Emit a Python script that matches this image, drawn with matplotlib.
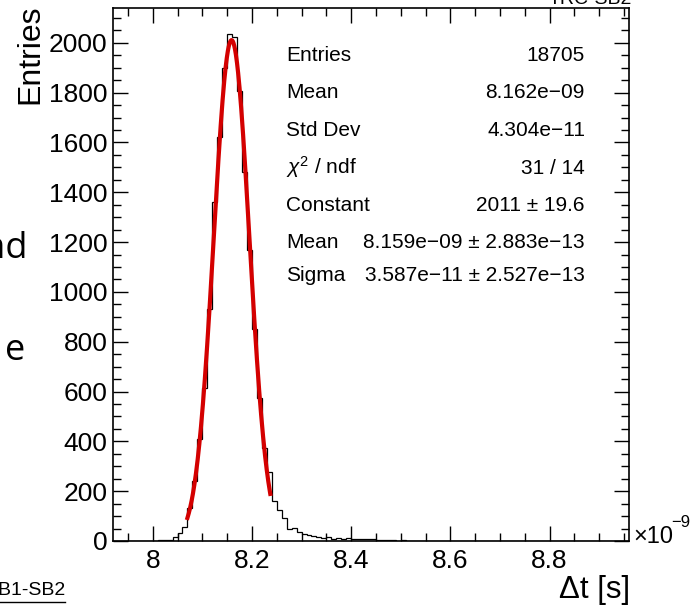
import matplotlib
matplotlib.use('Agg')
from matplotlib import pyplot as plt
from matplotlib.ticker import MultipleLocator
import numpy as np

plt.rcParams['font.family'] = ['Liberation Sans', 'DejaVu Sans']
plt.rcParams['mathtext.fontset'] = 'custom'
plt.rcParams['mathtext.rm'] = 'Liberation Sans'
plt.rcParams['mathtext.it'] = 'Liberation Sans:italic'

# histogramma: 104 bin da 0.01 ns tra 7.92 e 8.96 (x 1e-9 s)
x_lo, x_hi = 7.92, 8.96
counts = [0, 0, 0, 0, 2, 1, 0, 0, 1, 3,
          4, 6, 18, 33, 55, 134, 242, 408, 616, 930,
          1363, 1624, 1898, 2036, 2025, 1808, 1483, 1169, 850, 573,
          372, 278, 160, 125, 91, 50, 54, 37, 28, 24,
          20, 16, 13, 15, 10, 14, 9, 11, 10, 10,
          8, 7, 7, 5, 4, 3, 4, 2, 3, 1,
          2, 1, 0, 1, 0, 0, 1, 0, 0, 0,
          0, 0, 0, 0, 0, 0, 0, 0, 0, 0,
          0, 0, 0, 0, 0, 0, 0, 0, 0, 0,
          0, 0, 0, 0, 0, 0, 0, 0, 0, 0,
          0, 0, 0, 0]

# parametri del fit gaussiano
fit_const = 2011
fit_mean = 8.159
fit_sigma = 0.03587
fit_min, fit_max = 8.07, 8.237

x_ticks = [8.0, 8.2, 8.4, 8.6, 8.8]
x_ticklabels = ['8', '8.2', '8.4', '8.6', '8.8']

stats_labels = ['Entries', 'Mean', 'Std Dev', r'$\chi^{2}$ / ndf',
                'Constant', 'Mean', 'Sigma']
stats_values = ['18705', '8.162e\u221209', '4.304e\u221211', '31 / 14',
                '2011 \u00b1 19.6', '8.159e\u221209 \u00b1 2.883e\u221213',
                '3.587e\u221211 \u00b1 2.527e\u221213']

W, H = 695, 612


def fx(p):
    return p / W


def fy(p):
    return 1 - p / H


fig = plt.figure(figsize=(W / 100, H / 100), dpi=100)
ax = fig.add_axes([fx(113), fy(541), (629 - 113) / W, (541 - 8) / H])

edges = np.linspace(x_lo, x_hi, len(counts) + 1)
ax.stairs(counts, edges, color='black', lw=0.9)

xf = np.linspace(fit_min, fit_max, 300)
yf = fit_const * np.exp(-0.5 * ((xf - fit_mean) / fit_sigma) ** 2)
ax.plot(xf, yf, color='#d40000', lw=3)

ax.set_xlim(x_lo, x_hi)
ax.set_ylim(0, 2140)
ax.set_xticks(x_ticks)
ax.set_xticklabels(x_ticklabels)
ax.xaxis.set_minor_locator(MultipleLocator(0.05))
ax.yaxis.set_major_locator(MultipleLocator(200))
ax.yaxis.set_minor_locator(MultipleLocator(50))
ax.tick_params(which='both', direction='in', top=True, right=True,
               width=1, labelsize=19)
ax.tick_params(which='major', length=11)
ax.tick_params(which='minor', length=5.8)
ax.tick_params(axis='y', pad=4)
ax.tick_params(axis='x', pad=6)
for s in ax.spines.values():
    s.set_linewidth(1.2)

# titoli degli assi
fig.text(fx(30), fy(4), 'Entries', rotation=90, ha='center', va='top',
         fontsize=23)
fig.text(fx(630), fy(598), '\u0394t [s]', ha='right', va='baseline',
         fontsize=22.5)
fig.text(fx(633), fy(543), '\u00d710', ha='left', va='baseline', fontsize=17)
fig.text(fx(671), fy(527), '\u22129', ha='left', va='baseline', fontsize=12)

# box delle statistiche
row_y = [61, 98.5, 136, 173.5, 211, 248.5, 281]
for lab, val, yy in zip(stats_labels, stats_values, row_y):
    fig.text(fx(286), fy(yy), lab, ha='left', va='baseline', fontsize=15)
    fig.text(fx(585), fy(yy), val, ha='right', va='baseline', fontsize=15)

# testi tagliati ai bordi
fig.text(fx(28), fy(258), 'and', ha='right', va='baseline', fontsize=26,
         family=['Open Sans', 'DejaVu Sans'])
fig.text(fx(25), fy(360), 'e', ha='right', va='baseline', fontsize=26,
         family=['Open Sans', 'DejaVu Sans'])
fig.text(fx(65), fy(595), 'SB1-SB2', ha='right', va='baseline', fontsize=14)
fig.add_artist(plt.Line2D([0, fx(65)], [fy(602), fy(602)], color='black',
                          lw=1, transform=fig.transFigure))
fig.text(fx(632), fy(4), 'TRC-SB2', ha='right', va='baseline', fontsize=14)

fig.savefig('out.png', dpi=100)
